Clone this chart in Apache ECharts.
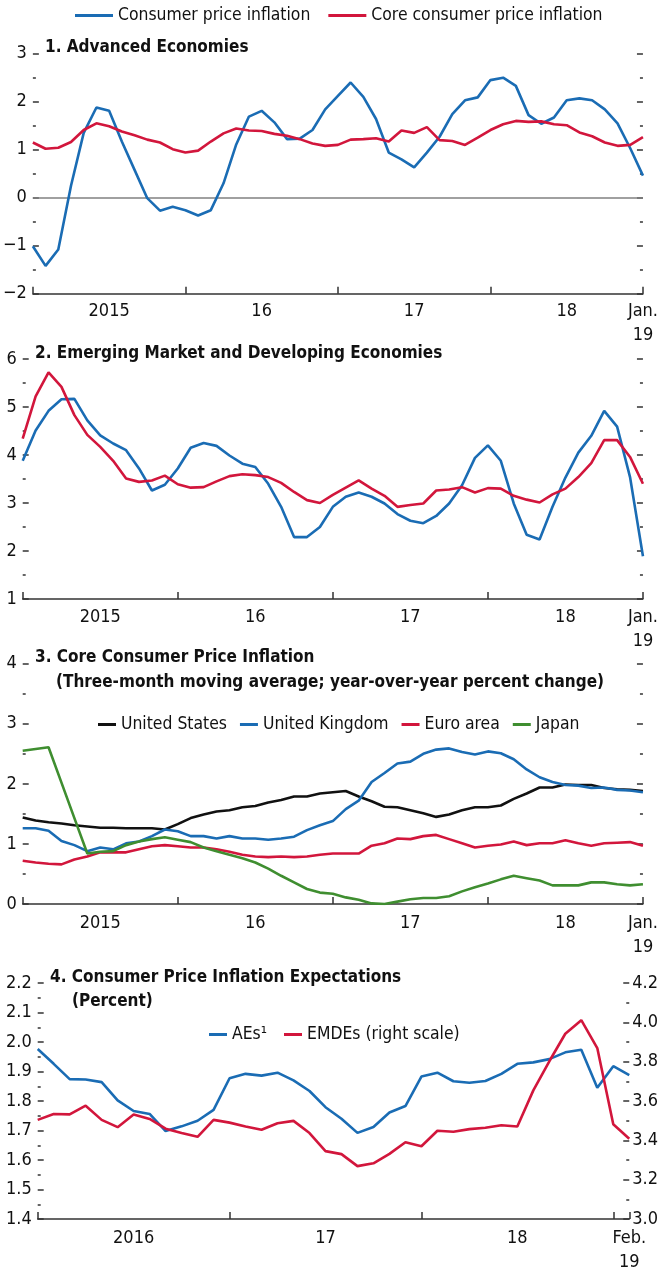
<!DOCTYPE html>
<html><head><meta charset="utf-8">
<script src="https://cdn.jsdelivr.net/npm/echarts@6/dist/echarts.min.js"></script>
<style>html,body{margin:0;padding:0;background:#fff}#c{width:661px;height:1274px}</style>
</head><body><div id="c"></div>
<script>
// ---------- data ----------
// Panels 1-3: monthly, Jan 2015 .. Jan 2019 (49 points)
const p1Cpi  = [-1.01,-1.42,-1.08,0.25,1.35,1.88,1.81,1.17,0.58,-0.01,-0.27,-0.19,-0.26,-0.37,-0.26,0.30,1.11,1.69,1.81,1.57,1.22,1.23,1.41,1.84,2.12,2.40,2.10,1.64,0.94,0.80,0.63,0.94,1.27,1.74,2.03,2.09,2.45,2.50,2.33,1.72,1.54,1.67,2.03,2.07,2.03,1.84,1.55,1.03,0.46];
const p1Core = [1.15,1.02,1.04,1.16,1.41,1.55,1.49,1.38,1.30,1.21,1.15,1.01,0.94,0.98,1.17,1.34,1.44,1.40,1.39,1.33,1.29,1.22,1.13,1.08,1.10,1.21,1.22,1.24,1.17,1.40,1.35,1.47,1.20,1.18,1.10,1.25,1.41,1.53,1.60,1.58,1.59,1.53,1.51,1.36,1.28,1.15,1.08,1.10,1.26];
const p2Cpi  = [3.88,4.51,4.92,5.16,5.17,4.72,4.41,4.24,4.10,3.72,3.26,3.38,3.72,4.15,4.25,4.19,3.99,3.82,3.75,3.40,2.92,2.29,2.29,2.50,2.92,3.13,3.22,3.13,2.99,2.77,2.63,2.58,2.73,2.99,3.37,3.94,4.20,3.88,2.99,2.34,2.24,2.92,3.53,4.05,4.40,4.92,4.59,3.54,1.89];
const p2Core = [4.34,5.22,5.72,5.42,4.83,4.42,4.17,3.88,3.51,3.44,3.47,3.57,3.39,3.32,3.33,3.45,3.56,3.60,3.58,3.54,3.42,3.23,3.06,3.00,3.17,3.32,3.47,3.30,3.15,2.92,2.96,2.99,3.26,3.28,3.33,3.22,3.31,3.30,3.15,3.07,3.01,3.18,3.30,3.54,3.83,4.31,4.31,3.96,3.40];
const p3US   = [1.44,1.39,1.36,1.34,1.31,1.29,1.27,1.27,1.26,1.26,1.26,1.24,1.33,1.43,1.49,1.54,1.56,1.61,1.63,1.69,1.73,1.79,1.79,1.84,1.86,1.88,1.79,1.71,1.62,1.61,1.56,1.51,1.45,1.49,1.56,1.61,1.61,1.64,1.75,1.84,1.94,1.94,1.99,1.98,1.98,1.93,1.91,1.90,1.88];
const p3UK   = [1.26,1.26,1.22,1.05,0.98,0.88,0.94,0.91,1.01,1.04,1.13,1.24,1.21,1.13,1.13,1.09,1.13,1.09,1.09,1.07,1.09,1.12,1.23,1.31,1.38,1.58,1.72,2.03,2.18,2.34,2.37,2.50,2.57,2.59,2.53,2.49,2.54,2.51,2.41,2.24,2.11,2.03,1.98,1.97,1.93,1.94,1.90,1.89,1.86];
const p3EA   = [0.72,0.69,0.67,0.66,0.74,0.79,0.86,0.86,0.86,0.91,0.96,0.98,0.96,0.94,0.94,0.91,0.87,0.82,0.79,0.78,0.79,0.78,0.79,0.82,0.84,0.84,0.84,0.97,1.01,1.09,1.08,1.13,1.15,1.08,1.01,0.94,0.97,0.99,1.04,0.98,1.01,1.01,1.06,1.01,0.97,1.01,1.02,1.03,0.97];
const p3JP   = [2.55,2.58,2.61,2.02,1.43,0.84,0.87,0.88,0.98,1.04,1.08,1.11,1.07,1.03,0.94,0.88,0.82,0.76,0.69,0.59,0.47,0.36,0.25,0.19,0.17,0.11,0.07,0.01,0.00,0.04,0.08,0.10,0.10,0.13,0.21,0.28,0.34,0.41,0.47,0.43,0.39,0.31,0.31,0.31,0.36,0.36,0.33,0.31,0.33];
// Panel 4: monthly, Jan 2016 .. Feb 2019 (38 points)
const p4AEs   = [1.976,1.926,1.874,1.873,1.864,1.802,1.766,1.756,1.698,1.714,1.733,1.770,1.877,1.892,1.886,1.896,1.870,1.834,1.779,1.740,1.692,1.712,1.761,1.783,1.883,1.896,1.867,1.862,1.868,1.892,1.926,1.931,1.942,1.965,1.974,1.845,1.918,1.888];
const p4EMDEs = [3.504,3.534,3.532,3.576,3.504,3.467,3.531,3.509,3.459,3.437,3.418,3.504,3.490,3.470,3.454,3.487,3.499,3.437,3.345,3.330,3.269,3.283,3.331,3.390,3.370,3.449,3.444,3.457,3.464,3.477,3.470,3.654,3.802,3.942,4.011,3.869,3.482,3.408];
// x tick labels: [month index, text]
const xLabels15 = [[6,'2015'],[18,'16'],[30,'17'],[42,'18'],[48,'Jan.\n19']];
const xLabels16 = [[6,'2016'],[18,'17'],[30,'18'],[37,'Feb.\n19']];

// ---------- styles ----------
const FONT = "'Liberation Sans Narrow','DejaVu Sans Condensed',sans-serif";
const BLUE='#1a6cb4', RED='#d2163c', GREEN='#3f8e30', BLACK='#111111', AX='#333333', TXT='#111111';

function xAxesFor(gi, max, labels, margin){
  const map = {}; labels.forEach(([k,t])=>map[k]=t);
  return [
    {type:'value', gridIndex:gi, position:'bottom', min:0, max:max, interval:12,
     axisLine:{show:true, onZero:false, lineStyle:{color:AX, width:1.5}},
     axisTick:{show:true, inside:true, length:7, lineStyle:{color:AX, width:1.5}},
     axisLabel:{show:false}, splitLine:{show:false}},
    {type:'value', gridIndex:gi, position:'bottom', min:0, max:max, interval:1,
     axisLine:{show:false, onZero:false}, axisTick:{show:false}, splitLine:{show:false},
     axisLabel:{show:true, margin:margin, fontFamily:FONT, fontSize:18, color:TXT, lineHeight:24,
       showMinLabel:true, showMaxLabel:true, hideOverlap:false,
       formatter:v=>map[Math.round(v)]||''}}
  ];
}
function yAxisFor(gi, pos, min, max, interval, showLabel, dec){
  return {type:'value', gridIndex:gi, position:pos, min:min, max:max, interval:interval,
    axisLine:{show:false, onZero:false},
    axisTick:{show:true, inside:true, length:6, lineStyle:{color:AX, width:1.5}},
    minorTick:{show:true, splitNumber:2, length:3, lineStyle:{color:AX, width:1.5}},
    splitLine:{show:false}, minorSplitLine:{show:false},
    axisLabel:{show:showLabel, margin:pos==='left'?6:3, fontFamily:FONT, fontSize:18, color:TXT,
      formatter:v=> dec ? v.toFixed(dec) : String(Math.round(v)).replace('-','\u2212')}};
}
function line(name, data, xi, yi, color, extra){
  return Object.assign({type:'line', name:name, xAxisIndex:xi, yAxisIndex:yi,
    data:data.map((v,i)=>[i,v]), symbol:'none', showSymbol:false,
    lineStyle:{color:color, width:2.6}, itemStyle:{color:color}, z:3, animation:false}, extra||{});
}
const titleStyle = {fontFamily:FONT, fontSize:17, fontWeight:'bold', color:TXT};
const legText = {fontFamily:FONT, fontSize:17.4, color:TXT};

const option = {
  animation:false,
  backgroundColor:'#ffffff',
  title:[
    {text:'1. Advanced Economies', left:45, top:39, padding:0, textStyle:titleStyle},
    {text:'2. Emerging Market and Developing Economies', left:35, top:345, padding:0, textStyle:titleStyle},
    {text:'3. Core Consumer Price Inflation', left:35, top:649, padding:0, textStyle:titleStyle},
    {text:'(Three-month moving average; year-over-year percent change)', left:56, top:674, padding:0, textStyle:titleStyle},
    {text:'4. Consumer Price Inflation Expectations', left:50, top:969, padding:0, textStyle:titleStyle},
    {text:'(Percent)', left:72, top:993, padding:0, textStyle:titleStyle}
  ],
  legend:[
    {data:['Consumer price inflation','Core consumer price inflation'], left:75, top:7, padding:0,
     icon:'rect', itemWidth:38, itemHeight:3, itemGap:18, textStyle:legText, selectedMode:false},
    {data:['United States','United Kingdom','Euro area','Japan'], left:98, top:716, padding:0,
     icon:'rect', itemWidth:18, itemHeight:3, itemGap:13, textStyle:legText, selectedMode:false},
    {data:['AEs\u00b9','EMDEs (right scale)'], left:209, top:1026, padding:0,
     icon:'rect', itemWidth:18, itemHeight:3, itemGap:17, textStyle:legText, selectedMode:false}
  ],
  grid:[
    {left:32.75, right:16.3, top:53.7, height:240},
    {left:22.7, right:17.7, top:359, height:240},
    {left:22.7, right:17.7, top:663.7, height:240.3},
    {left:37.7, right:31, top:983, height:239}
  ],
  xAxis:[].concat(
    xAxesFor(0,48,xLabels15,5.5),
    xAxesFor(1,48,xLabels15,6),
    xAxesFor(2,48,xLabels15,7),
    xAxesFor(3,37,xLabels16,7)
  ),
  yAxis:[
    yAxisFor(0,'left',-2,3,1,true,0), yAxisFor(0,'right',-2,3,1,false,0),
    yAxisFor(1,'left',1,6,1,true,0),  yAxisFor(1,'right',1,6,1,false,0),
    yAxisFor(2,'left',0,4,1,true,0),  yAxisFor(2,'right',0,4,1,false,0),
    yAxisFor(3,'left',1.4,2.2,0.1,true,1), yAxisFor(3,'right',3.0,4.2,0.2,true,1)
  ],
  series:[
    line('Consumer price inflation', p1Cpi, 0, 0, BLUE, {markLine:{silent:true, symbol:'none', z:1, animation:false,
        label:{show:false}, lineStyle:{color:'#808080', width:1.5, type:'solid'}, data:[{yAxis:0}]}}),
    line('Core consumer price inflation', p1Core, 0, 0, RED),
    line('Consumer price inflation', p2Cpi, 2, 2, BLUE),
    line('Core consumer price inflation', p2Core, 2, 2, RED),
    line('United States', p3US, 4, 4, BLACK),
    line('United Kingdom', p3UK, 4, 4, BLUE),
    line('Euro area', p3EA, 4, 4, RED),
    line('Japan', p3JP, 4, 4, GREEN),
    line('AEs\u00b9', p4AEs, 6, 6, BLUE),
    line('EMDEs (right scale)', p4EMDEs, 6, 7, RED)
  ]
};
const chart = echarts.init(document.getElementById('c'), null, {renderer:'canvas'});
chart.setOption(option);
</script>
</body></html>
